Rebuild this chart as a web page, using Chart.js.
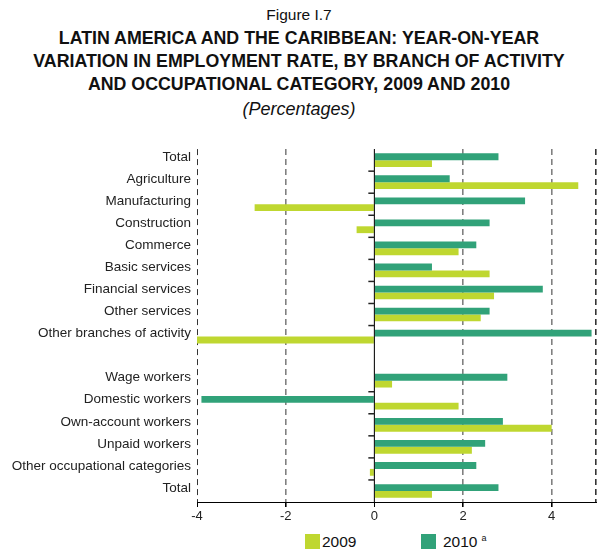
<!DOCTYPE html>
<html>
<head>
<meta charset="utf-8">
<script src="https://cdn.jsdelivr.net/npm/chart.js@4"></script>
<style>
  body { margin: 0; background: #fff; font-family: "Liberation Sans", Arial, sans-serif; color: #111; }
  #wrap { position: relative; width: 598px; height: 551px; overflow: hidden; }
  .t { position: absolute; left: 0; width: 598px; text-align: center; white-space: nowrap; line-height: 20px; }
  #fig { top: 5px; font-size: 15.5px; }
  .b { font-weight: bold; font-size: 17.8px; }
  #l1 { top: 28px; } #l2 { top: 51px; } #l3 { top: 74px; }
  #sub { top: 99px; font-style: italic; font-size: 18px; }
  #box { position: absolute; left: 0; top: 135px; width: 598px; height: 395px; }
  .lg { position: absolute; top: 534px; font-size: 15.5px; color: #111; line-height: 16px; }
  .sw { position: absolute; top: 534px; width: 15px; height: 15px; }
  sup { font-size: 9px; position: relative; top: -6px; vertical-align: baseline; margin-left: 4px; line-height: 0; }
</style>
</head>
<body>
<div id="wrap">
  <div class="t" id="fig">Figure I.7</div>
  <div class="t b" id="l1">LATIN AMERICA AND THE CARIBBEAN: YEAR-ON-YEAR</div>
  <div class="t b" id="l2">VARIATION IN EMPLOYMENT RATE, BY BRANCH OF ACTIVITY</div>
  <div class="t b" id="l3">AND OCCUPATIONAL CATEGORY, 2009 AND 2010</div>
  <div class="t" id="sub">(Percentages)</div>
  <div id="box"><canvas id="chart"></canvas></div>
  <div class="sw" style="left:305px;background:#bfd730"></div>
  <div class="lg" style="left:322px">2009</div>
  <div class="sw" style="left:421px;background:#31a279"></div>
  <div class="lg" style="left:443px">2010<sup>a</sup></div>
</div>
<script>
const categories = ["Total", "Agriculture", "Manufacturing", "Construction", "Commerce",
  "Basic services", "Financial services", "Other services", "Other branches of activity", "",
  "Wage workers", "Domestic workers", "Own-account workers", "Unpaid workers",
  "Other occupational categories", "Total"];
const values2010 = [2.8, 1.7, 3.4, 2.6, 2.3, 1.3, 3.8, 2.6, 4.9, null, 3.0, -3.9, 2.9, 2.5, 2.3, 2.8];
const values2009 = [1.3, 4.6, -2.7, -0.4, 1.9, 2.6, 2.7, 2.4, -4.0, null, 0.4, 1.9, 4.0, 2.2, -0.1, 1.3];
const xTicks = [-4, -2, 0, 2, 4];
const xMin = -4, xMax = 5;

const colors = { y2009: "#bfd730", y2010: "#31a279" };
const FONT = "'Liberation Sans', Arial, sans-serif";

// zero line over the bars, plus small tick marks on it between neighbouring categories
const zeroTicks = {
  id: "zeroTicks",
  afterDatasetsDraw(chart) {
    const { ctx, chartArea, scales: { x, y } } = chart;
    const x0 = x.getPixelForValue(0);
    ctx.save();
    ctx.strokeStyle = "#222";
    ctx.lineWidth = 1;
    ctx.beginPath();
    ctx.moveTo(x0, chartArea.top);
    ctx.lineTo(x0, chartArea.bottom);
    ctx.stroke();
    ctx.lineWidth = 1.5;
    for (let i = 1; i < categories.length; i++) {
      if (!categories[i] || !categories[i - 1]) continue;
      const yy = (y.getPixelForValue(i - 1) + y.getPixelForValue(i)) / 2;
      ctx.beginPath();
      ctx.moveTo(x0 - 6, yy);
      ctx.lineTo(x0, yy);
      ctx.stroke();
    }
    ctx.restore();
  }
};

new Chart(document.getElementById("chart"), {
  type: "bar",
  data: {
    labels: categories,
    datasets: [
      { label: "2010", data: values2010, backgroundColor: colors.y2010 },
      { label: "2009", data: values2009, backgroundColor: colors.y2009 }
    ]
  },
  options: {
    indexAxis: "y",
    responsive: true,
    maintainAspectRatio: false,
    animation: false,
    datasets: { bar: { categoryPercentage: 0.62, barPercentage: 1.0 } },
    layout: { padding: { top: 12, right: 0, left: 0, bottom: 0 } },
    plugins: { legend: { display: false }, tooltip: { enabled: false } },
    scales: {
      x: {
        min: xMin,
        max: xMax,
        afterBuildTicks: s => { s.ticks = xTicks.concat([xMax]).map(v => ({ value: v })); },
        afterFit: s => { s.height = 28; },
        ticks: {
          color: "#222",
          font: { family: FONT, size: 13 },
          padding: 2,
          callback: v => (xTicks.includes(v) ? String(v) : "")
        },
        grid: {
          color: c => {
            const v = c.tick && c.tick.value;
            if (v === 0) return "#000";
            if (v === xMin || v === xMax) return "#333";
            return "#808080";
          },
          lineWidth: c => (c.tick && (c.tick.value === xMin || c.tick.value === 0)) ? 1 : 1.6,
          tickColor: c => (c.tick && c.tick.value === xMax) ? "transparent" : "#000",
          tickLength: 5
        },
        border: {
          display: true,
          color: "#000",
          width: 1,
          dash: c => (c.tick && c.tick.value === 0) ? [] : [6, 4]
        }
      },
      y: {
        afterFit: s => { s.width = 197; },
        grid: { display: false, drawTicks: false },
        border: { display: false },
        ticks: {
          color: "#222",
          font: { family: FONT, size: 13.5 },
          padding: 6,
          labelOffset: -3,
          autoSkip: false
        }
      }
    }
  },
  plugins: [zeroTicks]
});
</script>
</body>
</html>
